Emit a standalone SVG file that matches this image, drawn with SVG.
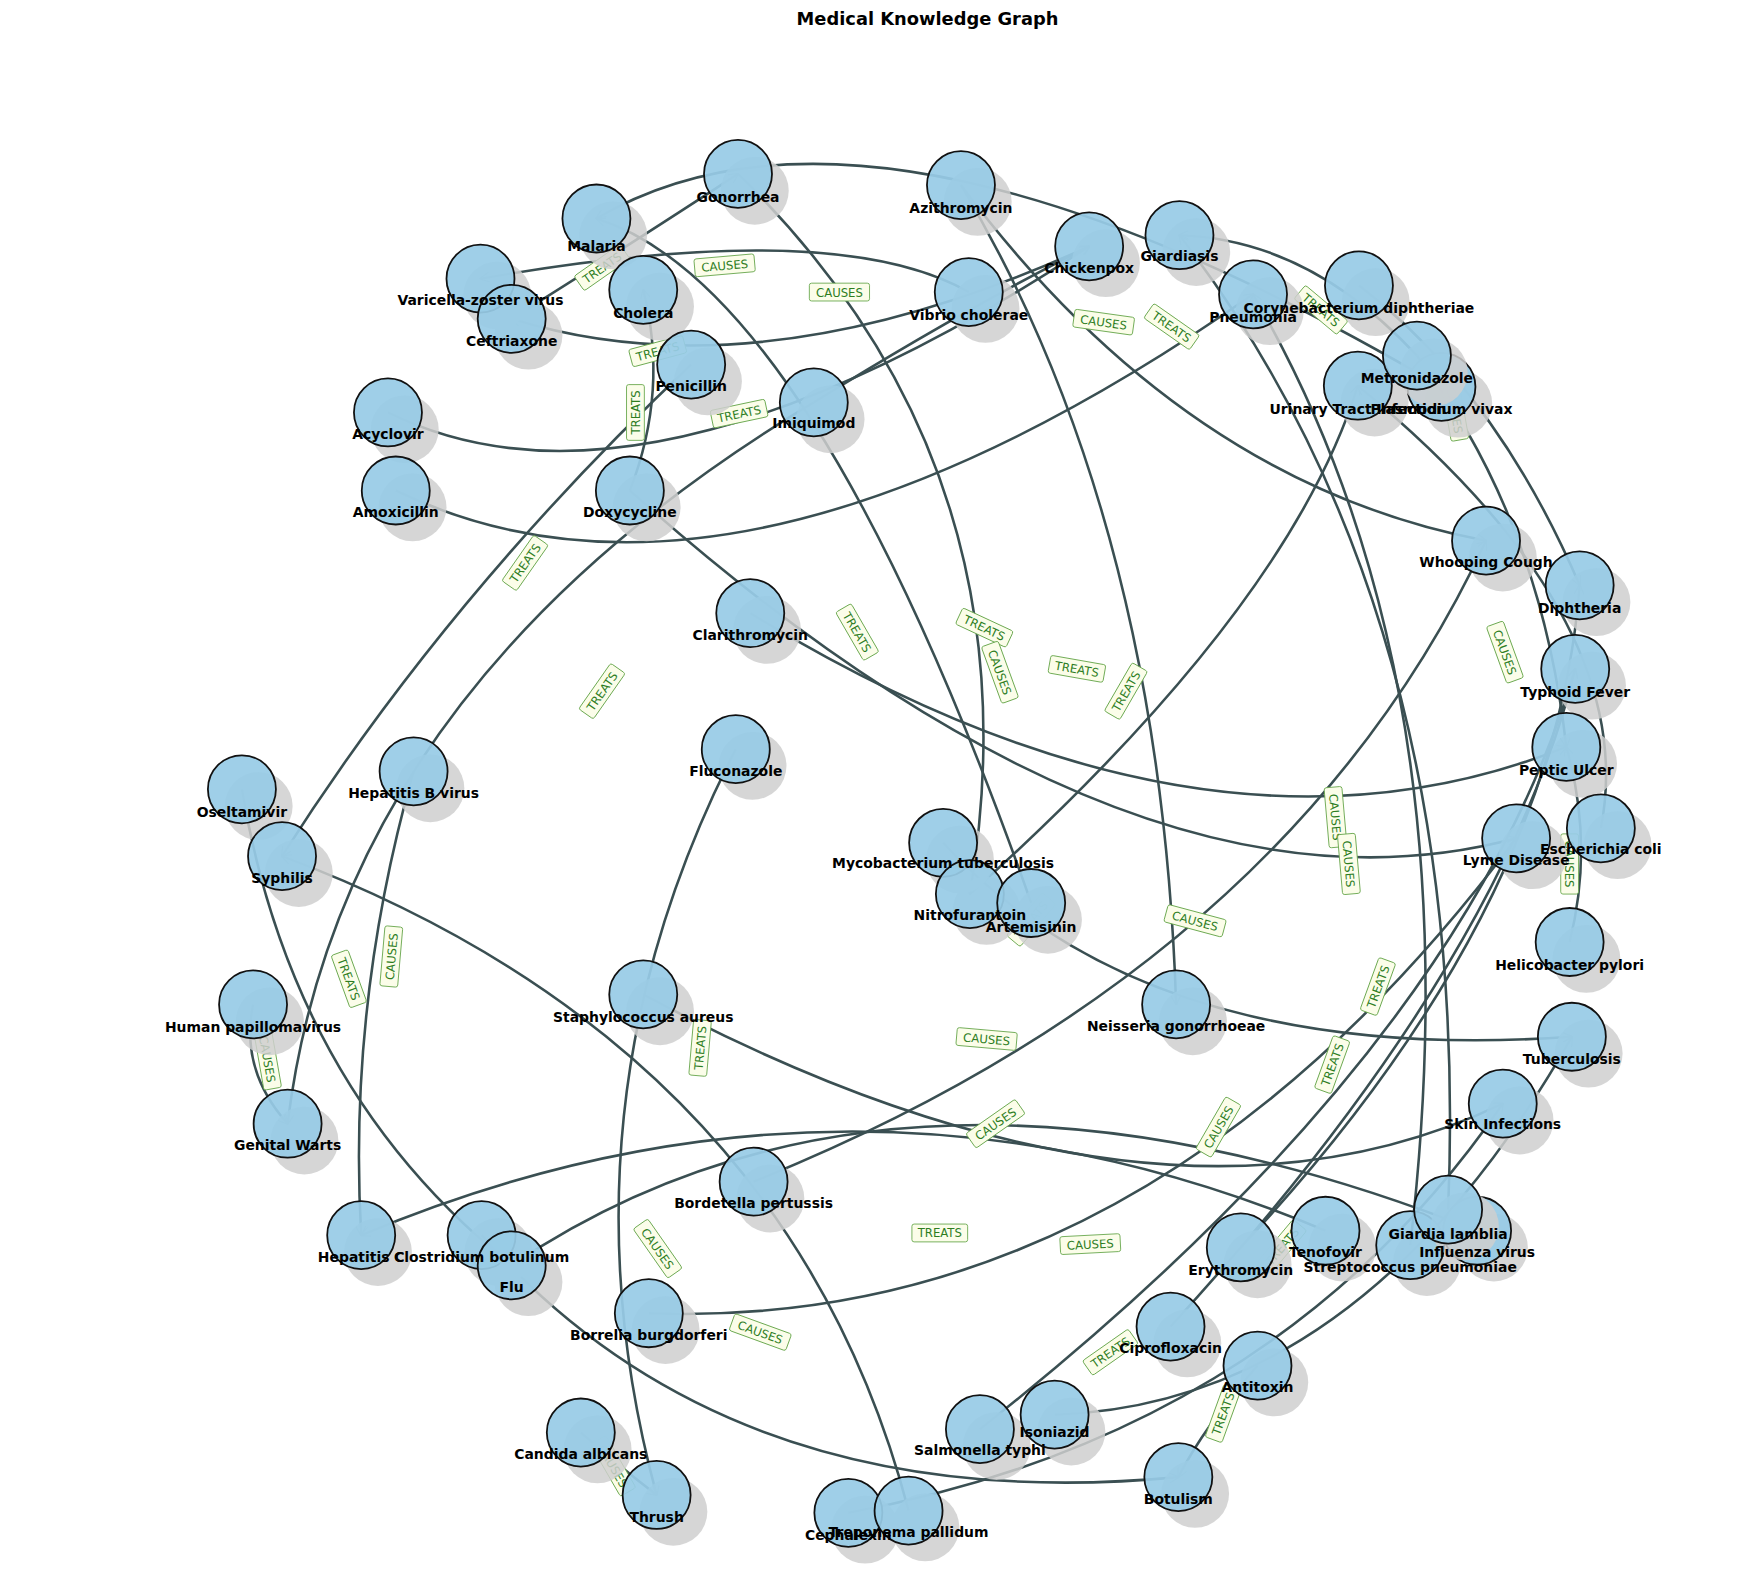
<svg xmlns="http://www.w3.org/2000/svg" width="1748" height="1584" viewBox="0 0 1748 1584">
<defs>
<marker id="arr" viewBox="0 0 10 10" refX="9" refY="5" markerWidth="9" markerHeight="9" markerUnits="userSpaceOnUse" orient="auto"><path d="M0,0 L10,5 L0,10" fill="none" stroke="#3a4f52" stroke-width="1.5"/></marker>
</defs>
<style>
.e{fill:none;stroke:#3a4f52;stroke-width:2.3;marker-end:url(#arr)}
.sh{fill:#cfcfcf;opacity:0.85}
.nd{fill:#98cbe6;fill-opacity:0.93;stroke:#111;stroke-width:1.6}
.nt{font-family:"DejaVu Sans",sans-serif;font-weight:bold;font-size:12.5px;fill:#000;text-anchor:middle}
.lb rect{fill:#fbfde9;stroke:#6aa84f;stroke-width:0.8}
.lb text{font-family:"DejaVu Sans",sans-serif;font-size:10.5px;fill:#2e7d1f;text-anchor:middle}
.ttl{font-family:"DejaVu Sans",sans-serif;font-weight:bold;font-size:16px;text-anchor:middle}
</style>
<rect width="1748" height="1584" fill="#fff"/>
<g transform="scale(1.1148)">
<text class="ttl" x="832" y="22">Medical Knowledge Graph</text>
<g id="edges">
<path class="e" d="M1293,347 Q786,48 535,196"/>
<path class="e" d="M1271,319 Q1175,215 1058,211"/>
<path class="e" d="M459,286 Q580,210 662,156"/>
<path class="e" d="M869,262 Q750,194 431,250"/>
<path class="e" d="M977,221 Q682,356 459,286"/>
<path class="e" d="M348,370 Q577,484 977,221"/>
<path class="e" d="M730,361 Q860,280 977,221"/>
<path class="e" d="M730,361 Q306,615 258,1008"/>
<path class="e" d="M371,692 Q312,900 324,1108"/>
<path class="e" d="M925,810 Q730,257 535,196"/>
<path class="e" d="M662,156 Q934,421 870,802"/>
<path class="e" d="M862,166 Q1041,466 1055,901"/>
<path class="e" d="M862,166 Q1062,434 1333,485"/>
<path class="e" d="M355,440 Q660,588 1124,264"/>
<path class="e" d="M620,327 Q403,532 253,768"/>
<path class="e" d="M565,440 Q600,350 577,260"/>
<path class="e" d="M565,440 Q1017,844 1360,752"/>
<path class="e" d="M673,550 Q1081,800 1405,670"/>
<path class="e" d="M1299,1085 Q1321,552 1058,211"/>
<path class="e" d="M1265,1117 Q1325,609 1124,264"/>
<path class="e" d="M870,802 Q1156,546 1218,346"/>
<path class="e" d="M1219,256 Q1342,350 1417,525"/>
<path class="e" d="M1271,319 Q1382,465 1405,670"/>
<path class="e" d="M1436,743 Q1473,555 1218,346"/>
<path class="e" d="M676,1060 Q1155,867 1333,485"/>
<path class="e" d="M879,1282 Q1314,939 1413,600"/>
<path class="e" d="M1050,1190 Q1348,865 1413,600"/>
<path class="e" d="M1113,1119 Q1395,818 1417,525"/>
<path class="e" d="M1408,845 Q1430,757 1405,670"/>
<path class="e" d="M815,1355 Q706,938 253,768"/>
<path class="e" d="M582,1178 Q1029,1195 1360,752"/>
<path class="e" d="M761,1357 Q1145,1286 1348,990"/>
<path class="e" d="M577,892 Q1037,1139 1348,990"/>
<path class="e" d="M1189,1104 Q763,924 324,1108"/>
<path class="e" d="M432,1108 Q655,1363 1057,1325"/>
<path class="e" d="M217,708 Q262,978 459,1135"/>
<path class="e" d="M227,901 Q215,960 258,1008"/>
<path class="e" d="M1325,1104 Q808,900 459,1135"/>
<path class="e" d="M660,672 Q495,993 589,1341"/>
<path class="e" d="M521,1285 Q555,1315 589,1341"/>
<path class="e" d="M846,756 Q1032,957 1410,930"/>
<path class="e" d="M946,1269 Q1222,1260 1410,930"/>
<path class="e" d="M1128,1225 Q1080,1280 1057,1325"/>
</g>
<g id="edge-labels">
<g class="lb" transform="translate(540,240) rotate(-35)"><rect x="-25" y="-8" width="50" height="16" rx="2"/><text y="4">TREATS</text></g>
<g class="lb" transform="translate(650,238) rotate(-5)"><rect x="-27" y="-8" width="54" height="16" rx="2"/><text y="4">CAUSES</text></g>
<g class="lb" transform="translate(753,262)"><rect x="-27" y="-8" width="54" height="16" rx="2"/><text y="4">CAUSES</text></g>
<g class="lb" transform="translate(590,315) rotate(-15)"><rect x="-25" y="-8" width="50" height="16" rx="2"/><text y="4">TREATS</text></g>
<g class="lb" transform="translate(570,370) rotate(-90)"><rect x="-25" y="-8" width="50" height="16" rx="2"/><text y="4">TREATS</text></g>
<g class="lb" transform="translate(663,371) rotate(-12)"><rect x="-25" y="-8" width="50" height="16" rx="2"/><text y="4">TREATS</text></g>
<g class="lb" transform="translate(990,289) rotate(8)"><rect x="-27" y="-8" width="54" height="16" rx="2"/><text y="4">CAUSES</text></g>
<g class="lb" transform="translate(1051,293) rotate(35)"><rect x="-25" y="-8" width="50" height="16" rx="2"/><text y="4">TREATS</text></g>
<g class="lb" transform="translate(1185,278) rotate(40)"><rect x="-25" y="-8" width="50" height="16" rx="2"/><text y="4">TREATS</text></g>
<g class="lb" transform="translate(1305,368) rotate(80)"><rect x="-27" y="-8" width="54" height="16" rx="2"/><text y="4">CAUSES</text></g>
<g class="lb" transform="translate(471,505) rotate(-55)"><rect x="-25" y="-8" width="50" height="16" rx="2"/><text y="4">TREATS</text></g>
<g class="lb" transform="translate(769,567) rotate(60)"><rect x="-25" y="-8" width="50" height="16" rx="2"/><text y="4">TREATS</text></g>
<g class="lb" transform="translate(540,620) rotate(-55)"><rect x="-25" y="-8" width="50" height="16" rx="2"/><text y="4">TREATS</text></g>
<g class="lb" transform="translate(883,563) rotate(25)"><rect x="-25" y="-8" width="50" height="16" rx="2"/><text y="4">TREATS</text></g>
<g class="lb" transform="translate(897,603) rotate(70)"><rect x="-27" y="-8" width="54" height="16" rx="2"/><text y="4">CAUSES</text></g>
<g class="lb" transform="translate(966,600) rotate(10)"><rect x="-25" y="-8" width="50" height="16" rx="2"/><text y="4">TREATS</text></g>
<g class="lb" transform="translate(1010,620) rotate(-60)"><rect x="-25" y="-8" width="50" height="16" rx="2"/><text y="4">TREATS</text></g>
<g class="lb" transform="translate(1350,585) rotate(70)"><rect x="-27" y="-8" width="54" height="16" rx="2"/><text y="4">CAUSES</text></g>
<g class="lb" transform="translate(1198,733) rotate(85)"><rect x="-27" y="-8" width="54" height="16" rx="2"/><text y="4">CAUSES</text></g>
<g class="lb" transform="translate(1210,775) rotate(85)"><rect x="-27" y="-8" width="54" height="16" rx="2"/><text y="4">CAUSES</text></g>
<g class="lb" transform="translate(1408,775) rotate(90)"><rect x="-27" y="-8" width="54" height="16" rx="2"/><text y="4">CAUSES</text></g>
<g class="lb" transform="translate(1072,826) rotate(15)"><rect x="-27" y="-8" width="54" height="16" rx="2"/><text y="4">CAUSES</text></g>
<g class="lb" transform="translate(885,932) rotate(5)"><rect x="-27" y="-8" width="54" height="16" rx="2"/><text y="4">CAUSES</text></g>
<g class="lb" transform="translate(1236,885) rotate(-70)"><rect x="-25" y="-8" width="50" height="16" rx="2"/><text y="4">TREATS</text></g>
<g class="lb" transform="translate(1195,955) rotate(-70)"><rect x="-25" y="-8" width="50" height="16" rx="2"/><text y="4">TREATS</text></g>
<g class="lb" transform="translate(893,1008) rotate(-35)"><rect x="-27" y="-8" width="54" height="16" rx="2"/><text y="4">CAUSES</text></g>
<g class="lb" transform="translate(1093,1011) rotate(-60)"><rect x="-27" y="-8" width="54" height="16" rx="2"/><text y="4">CAUSES</text></g>
<g class="lb" transform="translate(843,1106)"><rect x="-25" y="-8" width="50" height="16" rx="2"/><text y="4">TREATS</text></g>
<g class="lb" transform="translate(978,1116) rotate(-3)"><rect x="-27" y="-8" width="54" height="16" rx="2"/><text y="4">CAUSES</text></g>
<g class="lb" transform="translate(590,1120) rotate(55)"><rect x="-27" y="-8" width="54" height="16" rx="2"/><text y="4">CAUSES</text></g>
<g class="lb" transform="translate(682,1195) rotate(20)"><rect x="-27" y="-8" width="54" height="16" rx="2"/><text y="4">CAUSES</text></g>
<g class="lb" transform="translate(996,1213) rotate(-35)"><rect x="-25" y="-8" width="50" height="16" rx="2"/><text y="4">TREATS</text></g>
<g class="lb" transform="translate(1097,1268) rotate(-70)"><rect x="-25" y="-8" width="50" height="16" rx="2"/><text y="4">TREATS</text></g>
<g class="lb" transform="translate(313,878) rotate(70)"><rect x="-25" y="-8" width="50" height="16" rx="2"/><text y="4">TREATS</text></g>
<g class="lb" transform="translate(351,858) rotate(-85)"><rect x="-27" y="-8" width="54" height="16" rx="2"/><text y="4">CAUSES</text></g>
<g class="lb" transform="translate(240,950) rotate(80)"><rect x="-27" y="-8" width="54" height="16" rx="2"/><text y="4">CAUSES</text></g>
<g class="lb" transform="translate(628,940) rotate(-85)"><rect x="-25" y="-8" width="50" height="16" rx="2"/><text y="4">TREATS</text></g>
<g class="lb" transform="translate(1150,1118) rotate(-50)"><rect x="-25" y="-8" width="50" height="16" rx="2"/><text y="4">TREATS</text></g>
<g class="lb" transform="translate(550,1315) rotate(60)"><rect x="-27" y="-8" width="54" height="16" rx="2"/><text y="4">CAUSES</text></g>
<g class="lb" transform="translate(925,825) rotate(-50)"><rect x="-25" y="-8" width="50" height="16" rx="2"/><text y="4">TREATS</text></g>
</g>
<g id="nodes">
<g id="n-gonorrhea"><circle class="sh" cx="677" cy="171" r="30.5"/><circle class="nd" cx="662" cy="156" r="30.5"/></g>
<g id="n-azithromycin"><circle class="sh" cx="877" cy="181" r="30.5"/><circle class="nd" cx="862" cy="166" r="30.5"/></g>
<g id="n-malaria"><circle class="sh" cx="550" cy="211" r="30.5"/><circle class="nd" cx="535" cy="196" r="30.5"/></g>
<g id="n-giardiasis"><circle class="sh" cx="1073" cy="226" r="30.5"/><circle class="nd" cx="1058" cy="211" r="30.5"/></g>
<g id="n-chickenpox"><circle class="sh" cx="992" cy="236" r="30.5"/><circle class="nd" cx="977" cy="221" r="30.5"/></g>
<g id="n-vzv"><circle class="sh" cx="446" cy="265" r="30.5"/><circle class="nd" cx="431" cy="250" r="30.5"/></g>
<g id="n-cholera"><circle class="sh" cx="592" cy="275" r="30.5"/><circle class="nd" cx="577" cy="260" r="30.5"/></g>
<g id="n-vibrio"><circle class="sh" cx="884" cy="277" r="30.5"/><circle class="nd" cx="869" cy="262" r="30.5"/></g>
<g id="n-pneumonia"><circle class="sh" cx="1139" cy="279" r="30.5"/><circle class="nd" cx="1124" cy="264" r="30.5"/></g>
<g id="n-coryne"><circle class="sh" cx="1234" cy="271" r="30.5"/><circle class="nd" cx="1219" cy="256" r="30.5"/></g>
<g id="n-ceftriaxone"><circle class="sh" cx="474" cy="301" r="30.5"/><circle class="nd" cx="459" cy="286" r="30.5"/></g>
<g id="n-penicillin"><circle class="sh" cx="635" cy="342" r="30.5"/><circle class="nd" cx="620" cy="327" r="30.5"/></g>
<g id="n-uti"><circle class="sh" cx="1233" cy="361" r="30.5"/><circle class="nd" cx="1218" cy="346" r="30.5"/></g>
<g id="n-plasmodium"><circle class="sh" cx="1308" cy="362" r="30.5"/><circle class="nd" cx="1293" cy="347" r="30.5"/></g>
<g id="n-metronidazole"><circle class="sh" cx="1286" cy="334" r="30.5"/><circle class="nd" cx="1271" cy="319" r="30.5"/></g>
<g id="n-acyclovir"><circle class="sh" cx="363" cy="385" r="30.5"/><circle class="nd" cx="348" cy="370" r="30.5"/></g>
<g id="n-imiquimod"><circle class="sh" cx="745" cy="376" r="30.5"/><circle class="nd" cx="730" cy="361" r="30.5"/></g>
<g id="n-doxycycline"><circle class="sh" cx="580" cy="455" r="30.5"/><circle class="nd" cx="565" cy="440" r="30.5"/></g>
<g id="n-amoxicillin"><circle class="sh" cx="370" cy="455" r="30.5"/><circle class="nd" cx="355" cy="440" r="30.5"/></g>
<g id="n-whooping"><circle class="sh" cx="1348" cy="500" r="30.5"/><circle class="nd" cx="1333" cy="485" r="30.5"/></g>
<g id="n-diphtheria"><circle class="sh" cx="1432" cy="540" r="30.5"/><circle class="nd" cx="1417" cy="525" r="30.5"/></g>
<g id="n-clarithromycin"><circle class="sh" cx="688" cy="565" r="30.5"/><circle class="nd" cx="673" cy="550" r="30.5"/></g>
<g id="n-typhoid"><circle class="sh" cx="1428" cy="615" r="30.5"/><circle class="nd" cx="1413" cy="600" r="30.5"/></g>
<g id="n-peptic"><circle class="sh" cx="1420" cy="685" r="30.5"/><circle class="nd" cx="1405" cy="670" r="30.5"/></g>
<g id="n-fluconazole"><circle class="sh" cx="675" cy="687" r="30.5"/><circle class="nd" cx="660" cy="672" r="30.5"/></g>
<g id="n-hbv"><circle class="sh" cx="386" cy="707" r="30.5"/><circle class="nd" cx="371" cy="692" r="30.5"/></g>
<g id="n-oseltamivir"><circle class="sh" cx="232" cy="723" r="30.5"/><circle class="nd" cx="217" cy="708" r="30.5"/></g>
<g id="n-ecoli"><circle class="sh" cx="1451" cy="758" r="30.5"/><circle class="nd" cx="1436" cy="743" r="30.5"/></g>
<g id="n-lyme"><circle class="sh" cx="1375" cy="767" r="30.5"/><circle class="nd" cx="1360" cy="752" r="30.5"/></g>
<g id="n-mtb"><circle class="sh" cx="861" cy="771" r="30.5"/><circle class="nd" cx="846" cy="756" r="30.5"/></g>
<g id="n-syphilis"><circle class="sh" cx="268" cy="783" r="30.5"/><circle class="nd" cx="253" cy="768" r="30.5"/></g>
<g id="n-nitrofurantoin"><circle class="sh" cx="885" cy="817" r="30.5"/><circle class="nd" cx="870" cy="802" r="30.5"/></g>
<g id="n-artemisinin"><circle class="sh" cx="940" cy="825" r="30.5"/><circle class="nd" cx="925" cy="810" r="30.5"/></g>
<g id="n-hpylori"><circle class="sh" cx="1423" cy="860" r="30.5"/><circle class="nd" cx="1408" cy="845" r="30.5"/></g>
<g id="n-neisseria"><circle class="sh" cx="1070" cy="916" r="30.5"/><circle class="nd" cx="1055" cy="901" r="30.5"/></g>
<g id="n-hpv"><circle class="sh" cx="242" cy="916" r="30.5"/><circle class="nd" cx="227" cy="901" r="30.5"/></g>
<g id="n-staph"><circle class="sh" cx="592" cy="907" r="30.5"/><circle class="nd" cx="577" cy="892" r="30.5"/></g>
<g id="n-tuberculosis"><circle class="sh" cx="1425" cy="945" r="30.5"/><circle class="nd" cx="1410" cy="930" r="30.5"/></g>
<g id="n-warts"><circle class="sh" cx="273" cy="1023" r="30.5"/><circle class="nd" cx="258" cy="1008" r="30.5"/></g>
<g id="n-skin"><circle class="sh" cx="1363" cy="1005" r="30.5"/><circle class="nd" cx="1348" cy="990" r="30.5"/></g>
<g id="n-bordetella"><circle class="sh" cx="691" cy="1075" r="30.5"/><circle class="nd" cx="676" cy="1060" r="30.5"/></g>
<g id="n-hcv"><circle class="sh" cx="339" cy="1123" r="30.5"/><circle class="nd" cx="324" cy="1108" r="30.5"/></g>
<g id="n-clostridium"><circle class="sh" cx="447" cy="1123" r="30.5"/><circle class="nd" cx="432" cy="1108" r="30.5"/></g>
<g id="n-tenofovir"><circle class="sh" cx="1204" cy="1119" r="30.5"/><circle class="nd" cx="1189" cy="1104" r="30.5"/></g>
<g id="n-streppn"><circle class="sh" cx="1280" cy="1132" r="30.5"/><circle class="nd" cx="1265" cy="1117" r="30.5"/></g>
<g id="n-influenza"><circle class="sh" cx="1340" cy="1119" r="30.5"/><circle class="nd" cx="1325" cy="1104" r="30.5"/></g>
<g id="n-giardia"><circle class="sh" cx="1314" cy="1100" r="30.5"/><circle class="nd" cx="1299" cy="1085" r="30.5"/></g>
<g id="n-erythromycin"><circle class="sh" cx="1128" cy="1134" r="30.5"/><circle class="nd" cx="1113" cy="1119" r="30.5"/></g>
<g id="n-flu"><circle class="sh" cx="474" cy="1150" r="30.5"/><circle class="nd" cx="459" cy="1135" r="30.5"/></g>
<g id="n-borrelia"><circle class="sh" cx="597" cy="1193" r="30.5"/><circle class="nd" cx="582" cy="1178" r="30.5"/></g>
<g id="n-ciprofloxacin"><circle class="sh" cx="1065" cy="1205" r="30.5"/><circle class="nd" cx="1050" cy="1190" r="30.5"/></g>
<g id="n-antitoxin"><circle class="sh" cx="1143" cy="1240" r="30.5"/><circle class="nd" cx="1128" cy="1225" r="30.5"/></g>
<g id="n-salmonella"><circle class="sh" cx="894" cy="1297" r="30.5"/><circle class="nd" cx="879" cy="1282" r="30.5"/></g>
<g id="n-isoniazid"><circle class="sh" cx="961" cy="1284" r="30.5"/><circle class="nd" cx="946" cy="1269" r="30.5"/></g>
<g id="n-candida"><circle class="sh" cx="536" cy="1300" r="30.5"/><circle class="nd" cx="521" cy="1285" r="30.5"/></g>
<g id="n-botulism"><circle class="sh" cx="1072" cy="1340" r="30.5"/><circle class="nd" cx="1057" cy="1325" r="30.5"/></g>
<g id="n-thrush"><circle class="sh" cx="604" cy="1356" r="30.5"/><circle class="nd" cx="589" cy="1341" r="30.5"/></g>
<g id="n-cephalexin"><circle class="sh" cx="776" cy="1372" r="30.5"/><circle class="nd" cx="761" cy="1357" r="30.5"/></g>
<g id="n-treponema"><circle class="sh" cx="830" cy="1370" r="30.5"/><circle class="nd" cx="815" cy="1355" r="30.5"/></g>
</g>
<g id="node-labels">
<text class="nt" x="662" y="181">Gonorrhea</text>
<text class="nt" x="862" y="191">Azithromycin</text>
<text class="nt" x="535" y="225">Malaria</text>
<text class="nt" x="1058" y="234">Giardiasis</text>
<text class="nt" x="977" y="245">Chickenpox</text>
<text class="nt" x="431" y="274">Varicella-zoster virus</text>
<text class="nt" x="577" y="285">Cholera</text>
<text class="nt" x="869" y="287">Vibrio cholerae</text>
<text class="nt" x="1124" y="289">Pneumonia</text>
<text class="nt" x="1219" y="281">Corynebacterium diphtheriae</text>
<text class="nt" x="459" y="310">Ceftriaxone</text>
<text class="nt" x="620" y="351">Penicillin</text>
<text class="nt" x="1218" y="371">Urinary Tract Infection</text>
<text class="nt" x="1293" y="371">Plasmodium vivax</text>
<text class="nt" x="1271" y="344">Metronidazole</text>
<text class="nt" x="348" y="394">Acyclovir</text>
<text class="nt" x="730" y="384">Imiquimod</text>
<text class="nt" x="565" y="464">Doxycycline</text>
<text class="nt" x="355" y="464">Amoxicillin</text>
<text class="nt" x="1333" y="509">Whooping Cough</text>
<text class="nt" x="1417" y="550">Diphtheria</text>
<text class="nt" x="673" y="574">Clarithromycin</text>
<text class="nt" x="1413" y="625">Typhoid Fever</text>
<text class="nt" x="1405" y="695">Peptic Ulcer</text>
<text class="nt" x="660" y="696">Fluconazole</text>
<text class="nt" x="371" y="716">Hepatitis B virus</text>
<text class="nt" x="217" y="733">Oseltamivir</text>
<text class="nt" x="1436" y="766">Escherichia coli</text>
<text class="nt" x="1360" y="776">Lyme Disease</text>
<text class="nt" x="846" y="779">Mycobacterium tuberculosis</text>
<text class="nt" x="253" y="792">Syphilis</text>
<text class="nt" x="870" y="825">Nitrofurantoin</text>
<text class="nt" x="925" y="836">Artemisinin</text>
<text class="nt" x="1408" y="870">Helicobacter pylori</text>
<text class="nt" x="1055" y="925">Neisseria gonorrhoeae</text>
<text class="nt" x="227" y="926">Human papillomavirus</text>
<text class="nt" x="577" y="917">Staphylococcus aureus</text>
<text class="nt" x="1410" y="954">Tuberculosis</text>
<text class="nt" x="258" y="1032">Genital Warts</text>
<text class="nt" x="1348" y="1013">Skin Infections</text>
<text class="nt" x="676" y="1084">Bordetella pertussis</text>
<text class="nt" x="324" y="1132">Hepatitis C</text>
<text class="nt" x="432" y="1132">Clostridium botulinum</text>
<text class="nt" x="1189" y="1128">Tenofovir</text>
<text class="nt" x="1265" y="1141">Streptococcus pneumoniae</text>
<text class="nt" x="1325" y="1128">Influenza virus</text>
<text class="nt" x="1299" y="1111">Giardia lamblia</text>
<text class="nt" x="1113" y="1144">Erythromycin</text>
<text class="nt" x="459" y="1159">Flu</text>
<text class="nt" x="582" y="1202">Borrelia burgdorferi</text>
<text class="nt" x="1050" y="1214">Ciprofloxacin</text>
<text class="nt" x="1128" y="1249">Antitoxin</text>
<text class="nt" x="879" y="1305">Salmonella typhi</text>
<text class="nt" x="946" y="1289">Isoniazid</text>
<text class="nt" x="521" y="1309">Candida albicans</text>
<text class="nt" x="1057" y="1349">Botulism</text>
<text class="nt" x="589" y="1365">Thrush</text>
<text class="nt" x="761" y="1381">Cephalexin</text>
<text class="nt" x="815" y="1379">Treponema pallidum</text>
</g>
</g>
</svg>
